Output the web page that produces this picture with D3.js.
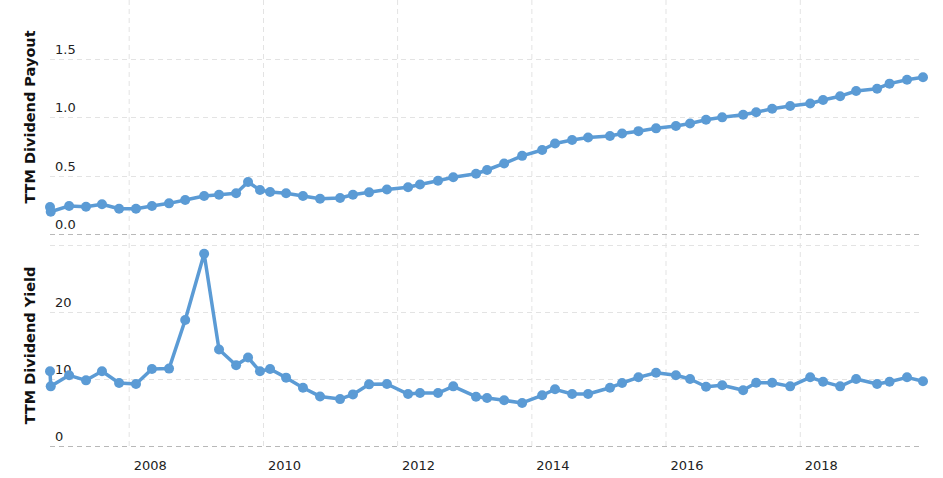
<!DOCTYPE html>
<html>
<head>
<meta charset="utf-8">
<script src="https://cdn.jsdelivr.net/npm/d3@7/dist/d3.min.js"></script>
<style>
  body { margin: 0; background: #fff; }
  svg { display: block; font-family: 'DejaVu Sans', Verdana, sans-serif; }
</style>
</head>
<body>
<svg id="chart"></svg>
<script>
'use strict';

// quarterly report dates
var dates = [
  '2006-10-27', '2006-10-31', '2007-02-08', '2007-05-11', '2007-08-06', '2007-11-07',
  '2008-02-07', '2008-05-04', '2008-08-05', '2008-11-01',
  '2009-02-12', '2009-05-04', '2009-08-05', '2009-10-09', '2009-12-13',
  '2010-02-06', '2010-05-04', '2010-08-04', '2010-11-05',
  '2011-02-22', '2011-05-03', '2011-07-30', '2011-11-04',
  '2012-02-27', '2012-05-02', '2012-08-08', '2012-10-30',
  '2013-03-03', '2013-05-02', '2013-08-03', '2013-11-09',
  '2014-02-26', '2014-05-07', '2014-08-08', '2014-11-03',
  '2015-03-02', '2015-05-07', '2015-08-04', '2015-11-08',
  '2016-02-24', '2016-05-11', '2016-08-06', '2016-11-02',
  '2017-02-24', '2017-05-06', '2017-08-01', '2017-11-07',
  '2018-02-24', '2018-05-05', '2018-08-06', '2018-11-01',
  '2019-02-23', '2019-05-02', '2019-08-05', '2019-10-31'
];

var payout = [
  0.23, 0.19, 0.24, 0.233, 0.254, 0.216,
  0.216, 0.239, 0.262, 0.291,
  0.325, 0.336, 0.348, 0.444, 0.376,
  0.359, 0.348, 0.325, 0.302,
  0.308, 0.336, 0.356, 0.38,
  0.40, 0.423, 0.455, 0.485,
  0.515, 0.547, 0.603, 0.668,
  0.718, 0.774, 0.803, 0.825,
  0.838, 0.859, 0.879, 0.903,
  0.923, 0.944, 0.976, 0.997,
  1.019, 1.04, 1.071, 1.094,
  1.115, 1.145, 1.178, 1.222,
  1.242, 1.285, 1.318, 1.339
];

var yieldPct = [
  11.15, 8.9, 10.55, 9.8, 11.15, 9.4,
  9.25, 11.5, 11.55, 18.8,
  28.7, 14.4, 12.05, 13.2, 11.15,
  11.5, 10.2, 8.7, 7.4,
  7.0, 7.7, 9.2, 9.25,
  7.75, 7.9, 7.9, 8.9,
  7.36, 7.16, 6.82, 6.42,
  7.57, 8.46, 7.76, 7.76,
  8.7, 9.4, 10.25, 10.94,
  10.55, 10.0, 8.85, 9.06,
  8.31, 9.45, 9.45, 8.9,
  10.25, 9.6, 8.9, 10.0,
  9.25, 9.6, 10.25, 9.66
];

var yearTicks = ['2008', '2010', '2012', '2014', '2016', '2018'];
var payoutTicks = [0, 0.5, 1.0, 1.5];
var yieldTicks = [0, 10, 20, 30];

var width = 943;
var height = 478;
var lineColor = '#5b9bd5';

var parseDate = d3.timeParse('%Y-%m-%d');
var parseYear = d3.timeParse('%Y');

var rows = dates.map(function(d, i) {
  return { date: parseDate(d), payout: payout[i], yield: yieldPct[i] };
});

var svg = d3.select('#chart')
  .attr('width', width)
  .attr('height', height);

var x = d3.scaleTime()
  .domain(d3.extent(rows, function(d) { return d.date; }))
  .range([50, 923]);

var gridLeft = 50;
var gridRight = 920;

var panels = [
  {
    key: 'payout',
    title: 'TTM Dividend Payout',
    ticks: payoutTicks,
    hideLabel: [],
    format: d3.format('.1f'),
    y: d3.scaleLinear().domain([0, 2]).range([234, 0])
  },
  {
    key: 'yield',
    title: 'TTM Dividend Yield',
    ticks: yieldTicks,
    hideLabel: [30],
    format: d3.format('d'),
    y: d3.scaleLinear().domain([0, 30]).range([446, 245])
  }
];

// vertical grid, running through both panels
var yearDates = yearTicks.map(parseYear);

svg.append('g')
  .attr('class', 'x-grid')
  .selectAll('line')
  .data(yearDates)
  .enter().append('line')
    .attr('x1', function(d) { return x(d); })
    .attr('x2', function(d) { return x(d); })
    .attr('y1', 0)
    .attr('y2', 446)
    .attr('stroke', '#e3e3e3')
    .attr('stroke-width', 1)
    .attr('stroke-dasharray', '5,4');

panels.forEach(function(p) {
  var g = svg.append('g').attr('class', 'panel-' + p.key);

  g.selectAll('line.grid')
    .data(p.ticks)
    .enter().append('line')
      .attr('class', 'grid')
      .attr('x1', gridLeft)
      .attr('x2', gridRight)
      .attr('y1', function(d) { return Math.round(p.y(d)) + 0.5; })
      .attr('y2', function(d) { return Math.round(p.y(d)) + 0.5; })
      .attr('stroke', function(d) { return d === 0 ? '#b8b8b8' : '#e3e3e3'; })
      .attr('stroke-width', 1)
      .attr('stroke-dasharray', '5,4');

  g.selectAll('text.tick')
    .data(p.ticks.filter(function(d) { return p.hideLabel.indexOf(d) < 0; }))
    .enter().append('text')
      .attr('class', 'tick')
      .attr('x', 55)
      .attr('y', function(d) { return p.y(d) - 5; })
      .attr('font-size', 13)
      .attr('fill', '#222')
      .text(p.format);

  var mid = (p.y.range()[0] + p.y.range()[1]) / 2;
  g.append('text')
    .attr('transform', 'translate(35,' + mid + ') rotate(-90)')
    .attr('text-anchor', 'middle')
    .attr('font-size', 14.5)
    .attr('font-weight', 'bold')
    .attr('fill', '#111')
    .text(p.title);
});

// year labels
svg.append('g')
  .attr('class', 'x-labels')
  .selectAll('text')
  .data(yearDates)
  .enter().append('text')
    .attr('x', function(d) { return x(d) + 21; })
    .attr('y', 470)
    .attr('text-anchor', 'middle')
    .attr('font-size', 13)
    .attr('fill', '#222')
    .text(d3.timeFormat('%Y'));

// series
panels.forEach(function(p) {
  var line = d3.line()
    .x(function(d) { return x(d.date); })
    .y(function(d) { return p.y(d[p.key]); });

  var g = svg.append('g').attr('class', 'series-' + p.key);

  g.append('path')
    .datum(rows)
    .attr('fill', 'none')
    .attr('stroke', lineColor)
    .attr('stroke-width', 3.5)
    .attr('stroke-linejoin', 'round')
    .attr('d', line);

  g.selectAll('circle')
    .data(rows)
    .enter().append('circle')
      .attr('cx', function(d) { return x(d.date); })
      .attr('cy', function(d) { return p.y(d[p.key]); })
      .attr('r', 5)
      .attr('fill', lineColor);
});
</script>
</body>
</html>
